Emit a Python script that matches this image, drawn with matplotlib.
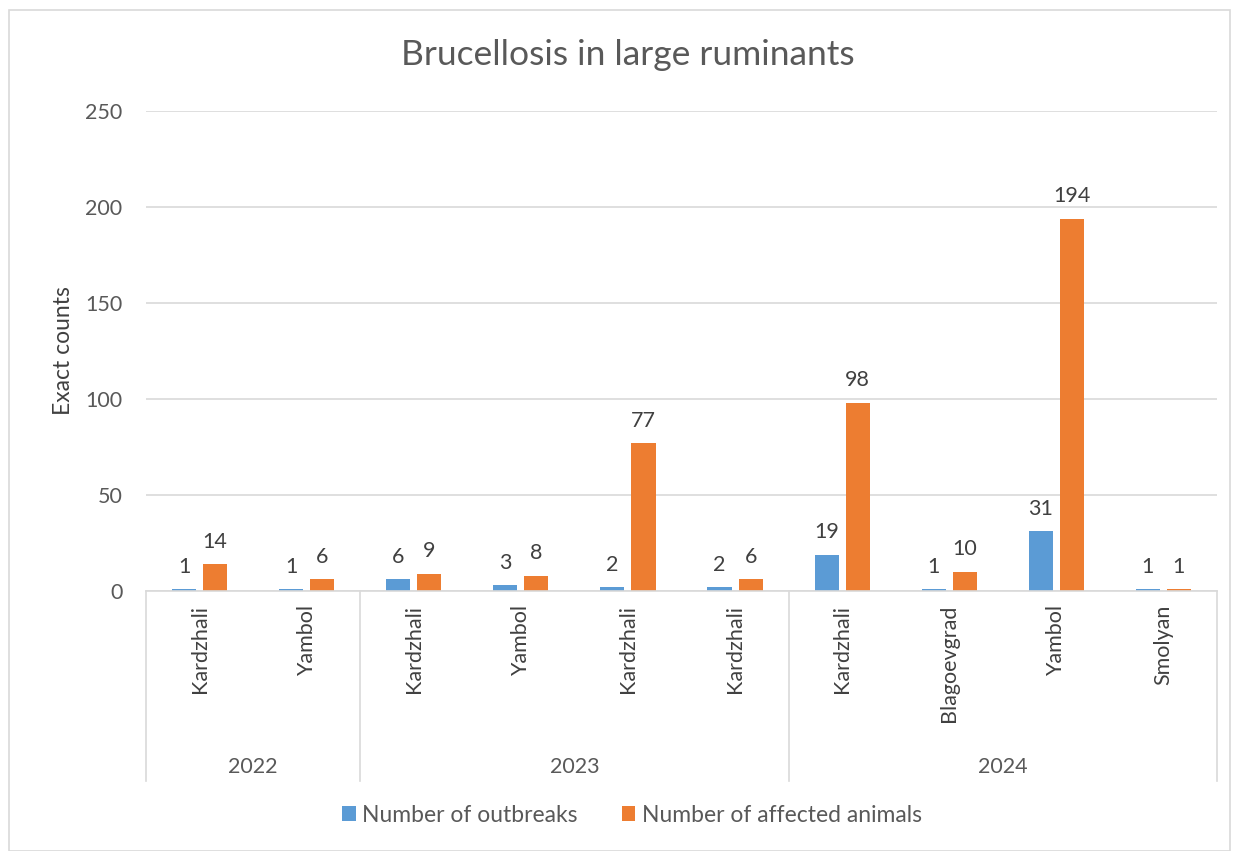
import numpy as np
import matplotlib.pyplot as plt
from matplotlib.patches import Rectangle

# Data
years = ["2022", "2023", "2024"]
year_sizes = [2, 4, 4]
regions = ["Kardzhali", "Yambol", "Kardzhali", "Yambol", "Kardzhali", "Kardzhali",
           "Kardzhali", "Blagoevgrad", "Yambol", "Smolyan"]
outbreaks = [1, 1, 6, 3, 2, 2, 19, 1, 31, 1]
affected = [14, 6, 9, 8, 77, 6, 98, 10, 194, 1]

blue = "#5B9BD5"
orange = "#ED7D31"
grey = "#595959"
grid = "#D9D9D9"

plt.rcParams['font.family'] = ['Lato', 'DejaVu Sans']

fig = plt.figure(figsize=(12.33, 8.51), dpi=100)
# outer chart border
fig.patches.append(Rectangle((9 / 1233, 0.0), 1221 / 1233, 841 / 851, transform=fig.transFigure,
                             fill=False, edgecolor=grid, linewidth=1.2))

ax = fig.add_axes([146 / 1233, 260 / 851, 1071 / 1233, 480 / 851])
x = np.arange(len(regions))
w = 0.225
off = 0.145
b1 = ax.bar(x - off, outbreaks, w, color=blue, label="Number of outbreaks")
b2 = ax.bar(x + off, affected, w, color=orange, label="Number of affected animals")

for bars, vals in [(b1, outbreaks), (b2, affected)]:
    for r, v in zip(bars, vals):
        ax.annotate(str(v), (r.get_x() + r.get_width() / 2, v), xytext=(0, 9),
                    textcoords="offset points", ha="center", va="bottom",
                    fontsize=15.5, color="#404040")

ax.set_xlim(-0.5, len(regions) - 0.5)
ax.set_ylim(0, 250)
ax.set_yticks(np.arange(0, 251, 50))
ax.yaxis.grid(True, color=grid, linewidth=1.2)
ax.set_axisbelow(True)
for s in ["top", "right", "left"]:
    ax.spines[s].set_visible(False)
ax.spines["bottom"].set_color(grid)
ax.spines["bottom"].set_linewidth(1.2)
ax.tick_params(axis="y", length=0, labelsize=15.5, labelcolor=grey, pad=17)
ax.tick_params(axis="x", length=0)
ax.set_xticks(x)
ax.set_xticklabels([])
ax.set_ylabel("Exact counts", fontsize=16.5, color="#404040", labelpad=8)

# region labels, rotated
for i, name in enumerate(regions):
    ax.annotate(name, (i, 0), xytext=(0, -10), textcoords="offset points",
                rotation=90, ha="center", va="top", fontsize=15.5, color="#404040",
                annotation_clip=False)

# year groups with separators
edges = np.concatenate([[0], np.cumsum(year_sizes)]) - 0.5
trans = ax.get_xaxis_transform()
for e in edges:
    ax.plot([e, e], [0, -190 / 480], transform=trans, color=grid, linewidth=1.2, clip_on=False)
for i, yr in enumerate(years):
    mid = (edges[i] + edges[i + 1]) / 2
    ax.text(mid, -176 / 480, yr, transform=trans, ha="center", va="center",
            fontsize=15.5, color=grey)

fig.text(628 / 1233, 1 - 55 / 851, "Brucellosis in large ruminants", ha="center", va="center",
         fontsize=25.5, color=grey)

fig.legend(handles=[b1, b2], loc="center", bbox_to_anchor=(632 / 1233, 1 - 815 / 851),
           ncol=2, frameon=False, fontsize=16.5, handlelength=0.6, handleheight=0.6,
           columnspacing=1.9, handletextpad=0.3, labelcolor=grey)

fig.savefig("out.png", dpi=100)
